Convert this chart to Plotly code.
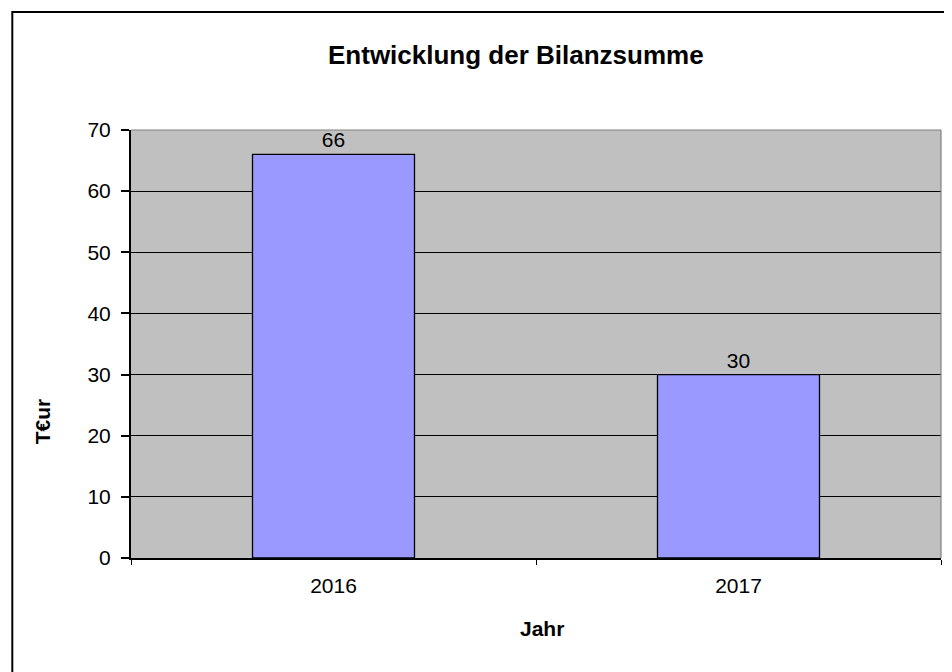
import plotly.graph_objects as go

years = ["2016", "2017"]
values = [66, 30]
y_ticks = [0, 10, 20, 30, 40, 50, 60, 70]

FONT = "Liberation Sans, Arial, sans-serif"

fig = go.Figure()
fig.add_trace(go.Bar(
    x=years, y=values, width=0.4,
    marker=dict(color="#9999FF", line=dict(color="black", width=1.3)),
    text=[str(v) for v in values], textposition="outside",
    textfont=dict(family=FONT, size=21, color="black"),
    cliponaxis=False,
))

OFF = 8  # page body margin
W, H = 944, 664
L, T = 122.7, 122
R = W - 932.7
B = H - 550
pw, ph = W - L - R, H - T - B


def px(x):
    return (x - OFF - L) / pw


def py(y):
    return (H - B - (y - OFF)) / ph


fig.update_layout(
    width=W, height=H,
    margin=dict(l=L, r=R, t=T, b=B, pad=0),
    paper_bgcolor="white", plot_bgcolor="#C0C0C0",
    showlegend=False,
    font=dict(family=FONT, size=21, color="black"),
    xaxis=dict(
        type="category", tickson="boundaries", ticks="outside", ticklen=5,
        tickwidth=1, tickcolor="black", showline=True, linecolor="black",
        linewidth=2, showgrid=False, tickfont=dict(size=21), ticklabelstandoff=8,
    ),
    yaxis=dict(
        range=[0, 70], tickvals=y_ticks, ticks="outside", ticklen=8,
        tickwidth=1.5, tickcolor="black", showline=True, linecolor="black",
        linewidth=2, showgrid=True, gridcolor="black", gridwidth=1.2,
        zeroline=False, tickfont=dict(size=21), ticklabelstandoff=6,
    ),
    annotations=[
        dict(text="<b>Entwicklung der Bilanzsumme</b>", xref="paper", yref="paper",
             x=px(516), y=py(55), showarrow=False, font=dict(size=26),
             xanchor="center", yanchor="middle"),
        dict(text="<b>Jahr</b>", xref="paper", yref="paper",
             x=px(542), y=py(628), showarrow=False, font=dict(size=21),
             xanchor="center", yanchor="middle"),
        dict(text="<b>T€ur</b>", xref="paper", yref="paper",
             x=px(42), y=py(421), showarrow=False, font=dict(size=21),
             textangle=-90, xanchor="center", yanchor="middle"),
    ],
    shapes=[
        dict(type="line", xref="paper", yref="paper", x0=0, x1=1, y0=1, y1=1,
             line=dict(color="#808080", width=1.2)),
        dict(type="line", xref="paper", yref="paper", x0=1, x1=1, y0=0, y1=1,
             line=dict(color="#808080", width=1.2)),
        dict(type="rect", xref="paper", yref="paper",
             x0=px(12), x1=px(975), y0=py(700), y1=py(12),
             line=dict(color="black", width=2), fillcolor="rgba(0,0,0,0)", layer="above"),
    ],
)

fig.write_html("out.html")
